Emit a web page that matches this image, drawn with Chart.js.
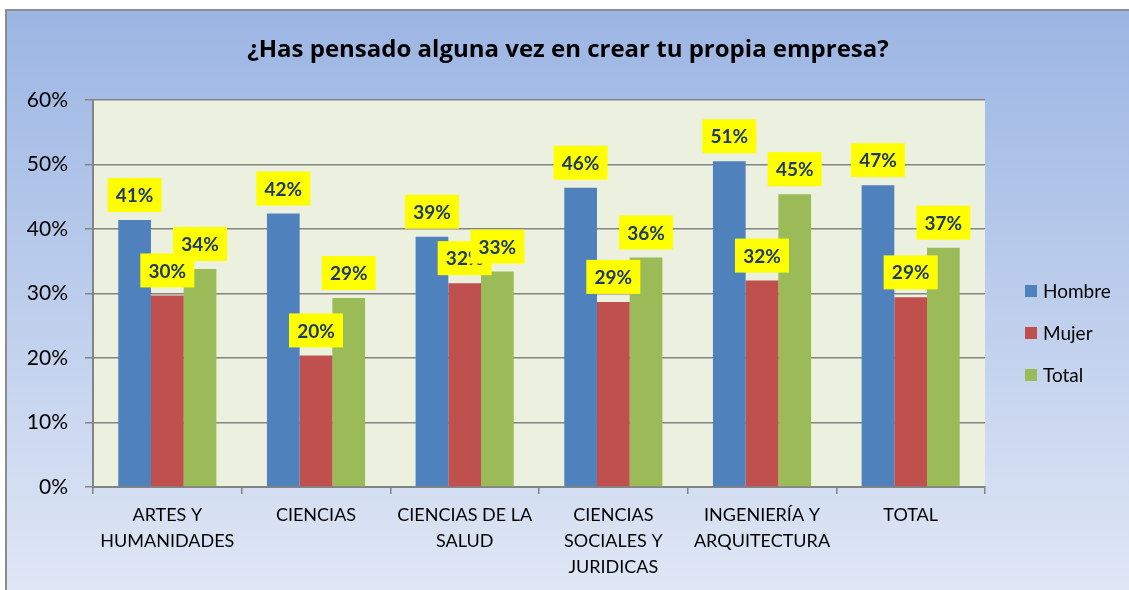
<!DOCTYPE html>
<html>
<head>
<meta charset="utf-8">
<script src="https://cdn.jsdelivr.net/npm/chart.js@4"></script>
<style>
  html, body { margin: 0; padding: 0; background: #fff; }
  canvas { display: block; }
</style>
</head>
<body>
<canvas id="chart" width="1129" height="590"></canvas>
<script>
    "use strict";

    const title = '¿Has pensado alguna vez en crear tu propia empresa?';
    const categories = [
        ['ARTES Y', 'HUMANIDADES'],
        ['CIENCIAS'],
        ['CIENCIAS DE LA', 'SALUD'],
        ['CIENCIAS', 'SOCIALES Y', 'JURIDICAS'],
        ['INGENIERÍA Y', 'ARQUITECTURA'],
        ['TOTAL']
    ];
    const seriesNames = ['Hombre', 'Mujer', 'Total'];
    const hombre = [41.4, 42.4, 38.8, 46.4, 50.5, 46.8];
    const mujer = [29.7, 20.4, 31.6, 28.7, 32.0, 29.4];
    const total = [33.8, 29.3, 33.4, 35.6, 45.4, 37.1];
    const yTicks = [0, 10, 20, 30, 40, 50, 60];

    const colors = ['#4f81bd', '#c0504d', '#9bbb59'];
    const gridColor = '#848484';
    const fontFamily = 'Lato, "Open Sans", sans-serif';

    // background, frame and plot area fill
    const backdrop = {
        id: 'backdrop',
        beforeDraw(chart) {
            const ctx = chart.ctx;
            const area = chart.chartArea;
            ctx.save();
            ctx.fillStyle = '#ffffff';
            ctx.fillRect(0, 0, chart.width, chart.height);
            let grad = ctx.createLinearGradient(0, 10, 0, chart.height);
            grad.addColorStop(0, '#9bb5e3');
            grad.addColorStop(1, '#dfe7f5');
            ctx.fillStyle = grad;
            ctx.fillRect(6, 10, chart.width, chart.height);
            ctx.strokeStyle = '#8c8c8c';
            ctx.lineWidth = 2;
            ctx.beginPath();
            ctx.moveTo(6, chart.height);
            ctx.lineTo(6, 10);
            ctx.lineTo(chart.width, 10);
            ctx.stroke();
            ctx.fillStyle = '#ebf0df';
            ctx.fillRect(area.left, area.top, area.right - area.left, area.bottom - area.top);
            ctx.restore();
        },
        afterDraw(chart) {
            const ctx = chart.ctx;
            ctx.save();
            // title
            ctx.fillStyle = '#000';
            ctx.font = 'bold 24px "Open Sans", Lato, sans-serif';
            ctx.textAlign = 'center';
            ctx.textBaseline = 'middle';
            ctx.fillText(title, 568, 50);
            // legend
            ctx.font = '19px ' + fontFamily;
            ctx.textAlign = 'left';
            chart.data.datasets.forEach(function (ds, i) {
                const y = 291 + i * 42;
                ctx.fillStyle = ds.backgroundColor;
                ctx.fillRect(1025, y - 6, 12, 12);
                ctx.fillStyle = '#000';
                ctx.fillText(ds.label, 1043, y + 1);
            });
            ctx.restore();
        }
    };

    // yellow value boxes above every bar
    const valueBoxes = {
        id: 'valueBoxes',
        afterDatasetsDraw(chart) {
            const ctx = chart.ctx;
            ctx.save();
            ctx.font = 'bold 19px ' + fontFamily;
            ctx.textAlign = 'center';
            ctx.textBaseline = 'middle';
            chart.data.datasets.forEach(function (ds, i) {
                chart.getDatasetMeta(i).data.forEach(function (bar, j) {
                    const bottom = bar.y - 8;
                    ctx.fillStyle = '#ffff00';
                    ctx.fillRect(bar.x - 27, bottom - 34, 54, 34);
                    ctx.fillStyle = '#1f3a68';
                    ctx.fillText(Math.round(ds.data[j]) + '%', bar.x, bottom - 16);
                });
            });
            ctx.restore();
        }
    };

    new Chart(document.getElementById('chart'), {
        type: 'bar',
        data: {
            labels: categories,
            datasets: [
                { label: seriesNames[0], data: hombre, backgroundColor: colors[0] },
                { label: seriesNames[1], data: mujer, backgroundColor: colors[1] },
                { label: seriesNames[2], data: total, backgroundColor: colors[2] }
            ]
        },
        options: {
            responsive: false,
            animation: false,
            devicePixelRatio: 1,
            layout: { padding: { top: 100, right: 144, bottom: 0, left: 0 } },
            datasets: {
                bar: { categoryPercentage: 0.66, barPercentage: 1, borderWidth: 0 }
            },
            plugins: {
                legend: { display: false },
                title: { display: false },
                tooltip: { enabled: false }
            },
            scales: {
                x: {
                    afterFit(scale) { scale.height = 103; },
                    grid: {
                        display: true,
                        drawOnChartArea: false,
                        drawTicks: true,
                        tickLength: 7,
                        color: gridColor,
                        lineWidth: 1.5
                    },
                    border: { display: true, color: gridColor, width: 2 },
                    ticks: {
                        color: '#000',
                        padding: 8,
                        maxRotation: 0,
                        autoSkip: false,
                        font: { family: fontFamily, size: 18, lineHeight: 26 / 18 }
                    }
                },
                y: {
                    min: 0,
                    max: 60,
                    afterFit(scale) { scale.width = 93; },
                    afterBuildTicks(scale) { scale.ticks = yTicks.map(v => ({ value: v })); },
                    grid: {
                        color: gridColor,
                        lineWidth: 1.5,
                        tickLength: 8
                    },
                    border: { display: true, color: gridColor, width: 2 },
                    ticks: {
                        color: '#000',
                        padding: 17,
                        font: { family: fontFamily, size: 21 },
                        callback: v => v + '%'
                    }
                }
            }
        },
        plugins: [backdrop, valueBoxes]
    });
</script>
</body>
</html>
